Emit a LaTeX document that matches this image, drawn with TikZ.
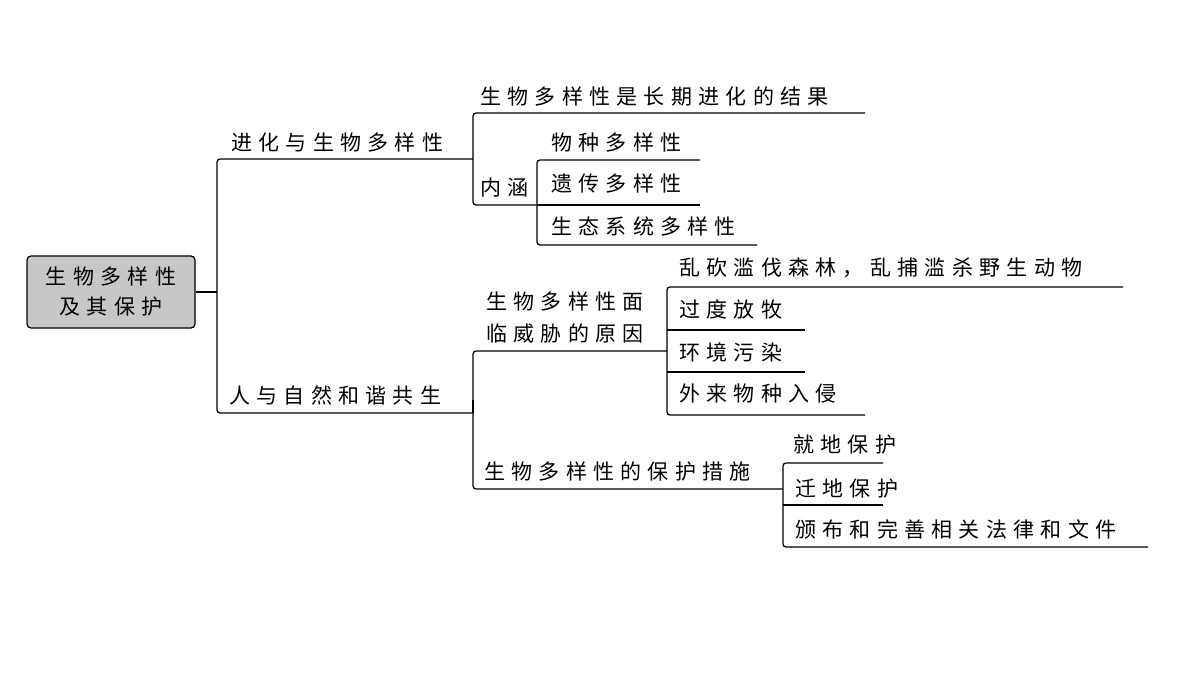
\documentclass[tikz,border=0pt]{standalone}
\usepackage{fontspec}
\newfontfamily\cjk[LetterSpace=30]{Noto Sans CJK SC}
\begin{document}
\begin{tikzpicture}[x=1pt,y=-1pt,
  lbl/.style={anchor=base west,inner sep=0pt,font=\cjk\fontsize{21}{27}\selectfont},
  ln/.style={line width=1.3pt,rounded corners=3pt}]
\useasboundingbox (0,0) rectangle (1200,676);
\node[draw,line width=1.3pt,rounded corners=4pt,fill=black!22,minimum width=168pt,minimum height=72pt,align=center,font=\cjk\fontsize{21}{30}\selectfont,inner sep=0pt] (root) at (111,292) {生物多样性\\及其保护};
% level 1
\node[lbl] (evo) at (231,151) {进化与生物多样性};
\node[lbl] (har) at (229,403) {人与自然和谐共生};
\draw[line width=1.3pt] (root.east) -- (217,292);
\draw[ln] (473,159) -- (217,159) -- (217,413) -- (473,413);
% evo branch
\node[lbl] (res) at (480,105) {生物多样性是长期进化的结果};
\node[lbl] (nh) at (480,196) {内涵};
\draw[ln] (865,113) -- (473,113) -- (473,205) -- (537,205);
\node[lbl] (s1) at (551,151) {物种多样性};
\node[lbl] (s2) at (551,192) {遗传多样性};
\node[lbl] (s3) at (551,235) {生态系统多样性};
\draw[ln] (700,160) -- (537,160) -- (537,245) -- (757,245);
\draw[line width=1.3pt] (537,205) -- (700,205);
% har branch
\node[lbl,align=left] (thr) at (486,310) {生物多样性面};
\node[lbl] (thr2) at (486,342) {临威胁的原因};
\node[lbl] (pro) at (484,479) {生物多样性的保护措施};
\draw[ln] (667,351) -- (473,351) -- (473,489) -- (783,489);
\draw[line width=1.3pt] (473,400) -- (473,413);
\node[lbl] (t1) at (679,276) {乱砍滥伐森林，乱捕滥杀野生动物};
\node[lbl] (t2) at (679,318) {过度放牧};
\node[lbl] (t3) at (679,360) {环境污染};
\node[lbl] (t4) at (679,401) {外来物种入侵};
\draw[ln] (1123,287) -- (667,287) -- (667,415) -- (865,415);
\draw[line width=1.3pt] (667,330) -- (805,330);
\draw[line width=1.3pt] (667,372) -- (805,372);
\node[lbl] (p1) at (793,452) {就地保护};
\node[lbl] (p2) at (795,496) {迁地保护};
\node[lbl] (p3) at (795,537) {颁布和完善相关法律和文件};
\draw[ln] (883,463) -- (783,463) -- (783,547) -- (1148,547);
\draw[line width=1.3pt] (783,505) -- (883,505);
\end{tikzpicture}
\end{document}
